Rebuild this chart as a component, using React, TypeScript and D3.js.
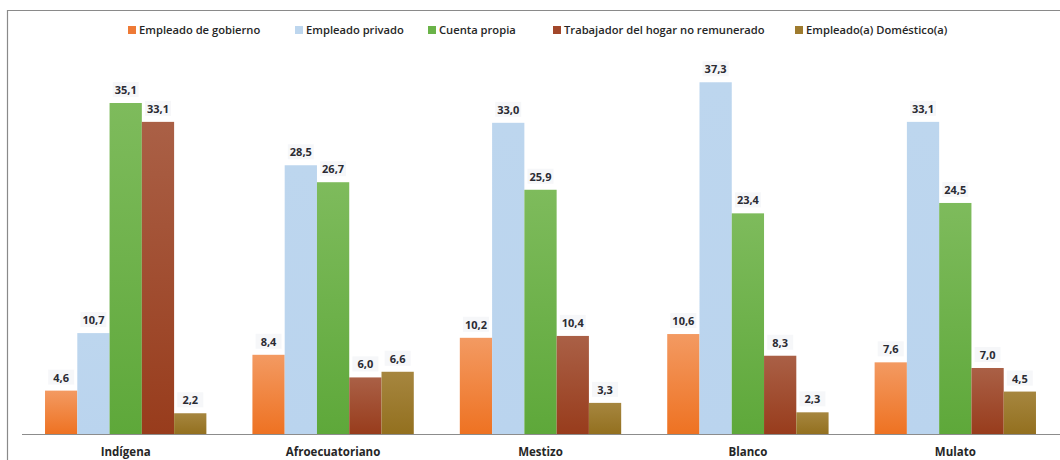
import React from "react";
import * as d3 from "d3";

const categories = ["Indígena", "Afroecuatoriano", "Mestizo", "Blanco", "Mulato"];
const seriesNames = [
  "Empleado de gobierno",
  "Empleado privado",
  "Cuenta propia",
  "Trabajador del hogar no remunerado",
  "Empleado(a) Doméstico(a)",
];
const gobierno = [4.6, 8.4, 10.2, 10.6, 7.6];
const privado = [10.7, 28.5, 33.0, 37.3, 33.1];
const cuentaPropia = [35.1, 26.7, 25.9, 23.4, 24.5];
const hogar = [33.1, 6.0, 10.4, 8.3, 7.0];
const domestico = [2.2, 6.6, 3.3, 2.3, 4.5];
const seriesValues = [gobierno, privado, cuentaPropia, hogar, domestico];

// top / bottom colours of each series' vertical gradient
const fills: [string, string][] = [
  ["#F39A62", "#EE7222"],
  ["#BDD6EE", "#BAD4EE"],
  ["#7EBB5C", "#5EA83A"],
  ["#AA6046", "#983C1C"],
  ["#A6863F", "#93701F"],
];
const legendSwatch = ["#EE7A36", "#BDD6EE", "#6AB348", "#A2472A", "#9E7B2E"];
const legendX = [128, 295, 428, 553, 795];

const W = 1060;
const H = 460;
const baseY = 434;

export default function App() {
  const x0 = d3.scaleBand<string>().domain(categories).range([22, 1059]).paddingInner(0.222).paddingOuter(0.111);
  const x1 = d3
    .scaleBand<number>()
    .domain(d3.range(seriesNames.length))
    .range([0, x0.bandwidth()]);
  const y = d3.scaleLinear().domain([0, 40]).range([baseY, baseY - 377.2]);
  const fmt = (v: number) => v.toFixed(1).replace(".", ",");
  const font = "'Open Sans', 'Liberation Sans', sans-serif";

  return (
    <svg
      width={W}
      height={H}
      style={{ position: "absolute", left: 0, top: 0, background: "#fff" }}
      fontFamily={font}
    >
      <defs>
        {fills.map((f, i) => (
          <linearGradient key={i} id={`g${i}`} x1="0" y1="0" x2="0" y2="1">
            <stop offset="0" stopColor={f[0]} />
            <stop offset="1" stopColor={f[1]} />
          </linearGradient>
        ))}
      </defs>
      {/* frame */}
      <path d={`M7.5,${H} V10.5 H${W}`} fill="none" stroke="#8a8a8a" strokeWidth={1.2} />

      {/* legend */}
      {seriesNames.map((s, i) => (
        <g key={s} transform={`translate(${legendX[i]},0)`}>
          <rect x={0} y={26} width={8} height={8} fill={legendSwatch[i]} />
          <text x={11} y={34} fontSize={11.2} fontWeight={600} fill="#262626">
            {s}
          </text>
        </g>
      ))}

      {/* bars */}
      {categories.map((c, ci) => (
        <g key={c} transform={`translate(${x0(c)},0)`}>
          {seriesValues.map((vals, si) => {
            const v = vals[ci];
            const bx = x1(si)!;
            const bw = x1.bandwidth();
            return (
              <g key={si}>
                <rect x={bx} y={y(v)} width={bw} height={baseY - y(v)} fill={`url(#g${si})`} />
                <rect
                  x={bx + bw / 2 - 13}
                  y={y(v) - 21}
                  width={26}
                  height={15}
                  fill="#f2f4f7"
                  opacity={0.7}
                />
                <text
                  x={bx + bw / 2}
                  y={y(v) - 9}
                  textAnchor="middle"
                  fontSize={11}
                  fontWeight="bold"
                  fill="#2b2b33"
                >
                  {fmt(v)}
                </text>
              </g>
            );
          })}
          <text
            x={x0.bandwidth() / 2}
            y={456}
            textAnchor="middle"
            fontSize={11.5}
            fontWeight="bold"
            fill="#262626"
          >
            {c}
          </text>
        </g>
      ))}

      {/* baseline */}
      <line x1={22} x2={W} y1={baseY + 0.5} y2={baseY + 0.5} stroke="#8c8c8c" strokeWidth={1.2} />
    </svg>
  );
}
